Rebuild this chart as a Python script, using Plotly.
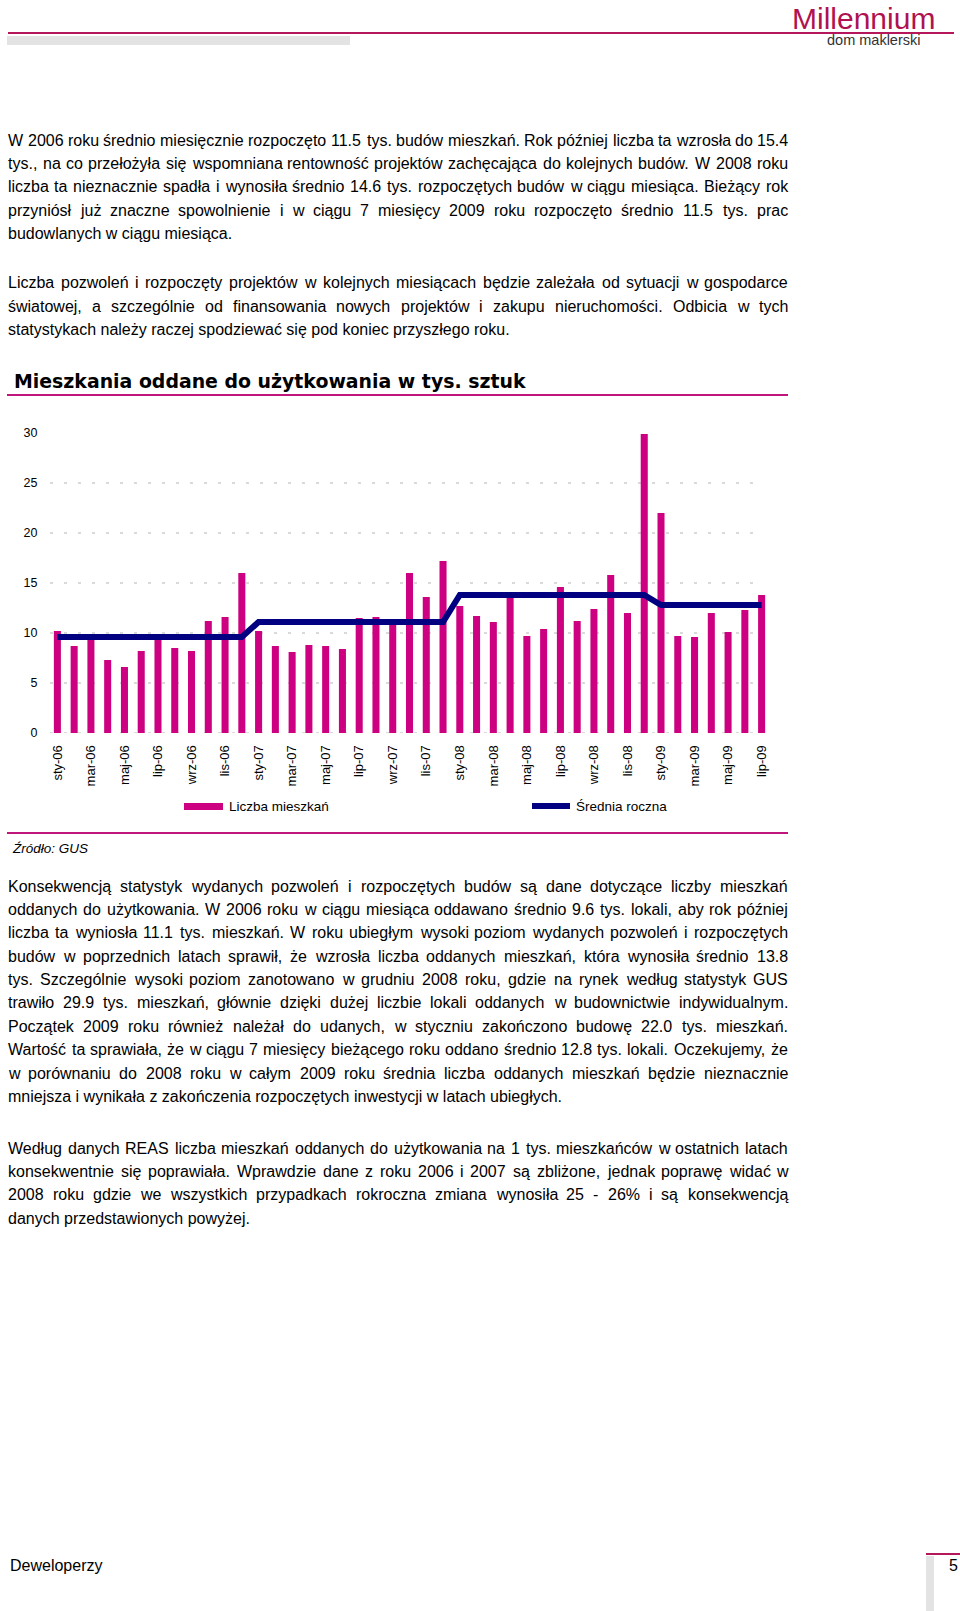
import plotly.graph_objects as go

W, H = 960, 1611

# ---------------- data ----------------
months = [
    "sty-06", "lut-06", "mar-06", "kwi-06", "maj-06", "cze-06", "lip-06", "sie-06", "wrz-06", "paź-06", "lis-06", "gru-06",
    "sty-07", "lut-07", "mar-07", "kwi-07", "maj-07", "cze-07", "lip-07", "sie-07", "wrz-07", "paź-07", "lis-07", "gru-07",
    "sty-08", "lut-08", "mar-08", "kwi-08", "maj-08", "cze-08", "lip-08", "sie-08", "wrz-08", "paź-08", "lis-08", "gru-08",
    "sty-09", "lut-09", "mar-09", "kwi-09", "maj-09", "cze-09", "lip-09",
]
liczba_mieszkan = [
    10.2, 8.7, 9.7, 7.3, 6.6, 8.2, 9.7, 8.5, 8.2, 11.2, 11.6, 16.0,
    10.2, 8.7, 8.1, 8.8, 8.7, 8.4, 11.5, 11.6, 11.0, 16.0, 13.6, 17.2,
    12.7, 11.7, 11.1, 13.7, 9.7, 10.4, 14.6, 11.2, 12.4, 15.8, 12.0, 29.9,
    22.0, 9.7, 9.6, 12.0, 10.1, 12.3, 13.8,
]
srednia_roczna = [
    9.6, 9.6, 9.6, 9.6, 9.6, 9.6, 9.6, 9.6, 9.6, 9.6, 9.6, 9.6,
    11.1, 11.1, 11.1, 11.1, 11.1, 11.1, 11.1, 11.1, 11.1, 11.1, 11.1, 11.1,
    13.8, 13.8, 13.8, 13.8, 13.8, 13.8, 13.8, 13.8, 13.8, 13.8, 13.8, 13.8,
    12.8, 12.8, 12.8, 12.8, 12.8, 12.8, 12.8,
]
tick_labels = ["sty-06", "mar-06", "maj-06", "lip-06", "wrz-06", "lis-06",
               "sty-07", "mar-07", "maj-07", "lip-07", "wrz-07", "lis-07",
               "sty-08", "mar-08", "maj-08", "lip-08", "wrz-08", "lis-08",
               "sty-09", "mar-09", "maj-09", "lip-09"]
y_ticks = [0, 5, 10, 15, 20, 25, 30]
grid_levels = [0, 5, 10, 15, 20, 25]

para1 = [
    "W 2006 roku średnio miesięcznie rozpoczęto 11.5 tys. budów mieszkań. Rok później liczba ta wzrosła do 15.4",
    "tys., na co przełożyła się wspomniana rentowność projektów zachęcająca do kolejnych budów. W 2008 roku",
    "liczba ta nieznacznie spadła i wynosiła średnio 14.6 tys. rozpoczętych budów w ciągu miesiąca. Bieżący rok",
    "przyniósł już znaczne spowolnienie i w ciągu 7 miesięcy 2009 roku rozpoczęto średnio 11.5 tys. prac",
    "budowlanych w ciągu miesiąca.",
]
para2 = [
    "Liczba pozwoleń i rozpoczęty projektów w kolejnych miesiącach będzie zależała od sytuacji w gospodarce",
    "światowej, a szczególnie od finansowania nowych projektów i zakupu nieruchomości. Odbicia w tych",
    "statystykach należy raczej spodziewać się pod koniec przyszłego roku.",
]
para3 = [
    "Konsekwencją statystyk wydanych pozwoleń i rozpoczętych budów są dane dotyczące liczby mieszkań",
    "oddanych do użytkowania. W 2006 roku w ciągu miesiąca oddawano średnio 9.6 tys. lokali, aby rok później",
    "liczba ta wyniosła 11.1 tys. mieszkań. W roku ubiegłym wysoki poziom wydanych pozwoleń i rozpoczętych",
    "budów w poprzednich latach sprawił, że wzrosła liczba oddanych mieszkań, która wynosiła średnio 13.8",
    "tys. Szczególnie wysoki poziom zanotowano w grudniu 2008 roku, gdzie na rynek według statystyk GUS",
    "trawiło 29.9 tys. mieszkań, głównie dzięki dużej liczbie lokali oddanych w budownictwie indywidualnym.",
    "Początek 2009 roku również należał do udanych, w styczniu zakończono budowę 22.0 tys. mieszkań.",
    "Wartość ta sprawiała, że w ciągu 7 miesięcy bieżącego roku oddano średnio 12.8 tys. lokali. Oczekujemy, że",
    "w porównaniu do 2008 roku w całym 2009 roku średnia liczba oddanych mieszkań będzie nieznacznie",
    "mniejsza i wynikała z zakończenia rozpoczętych inwestycji w latach ubiegłych.",
]
para4 = [
    "Według danych REAS liczba mieszkań oddanych do użytkowania na 1 tys. mieszkańców w ostatnich latach",
    "konsekwentnie się poprawiała. Wprawdzie dane z roku 2006 i 2007 są zbliżone, jednak poprawę widać w",
    "2008 roku gdzie we wszystkich przypadkach rokroczna zmiana wynosiła 25 - 26% i są konsekwencją",
    "danych przedstawionych powyżej.",
]

# ---------------- styles ----------------
BAR = "#cc0080"
NAVY = "#000080"
ACCENT = "#c0157a"
HEAD = "#b5175a"
FONT = "Liberation Sans, Arial, sans-serif"
TEXT_SIZE = 16
TEXT_LEFT = 6
TEXT_RIGHT = 786

# Arial / Liberation Sans advance widths (per 1000 em) for text justification
_W = {" ": 278, ",": 278, ".": 278, ":": 278, "-": 333, "%": 889}
_W.update({d: 556 for d in "0123456789"})
_W.update(dict(zip("ABCDEFGHIJKLMNOPQRSTUVWXYZ",
                   [667, 667, 722, 722, 667, 611, 778, 722, 278, 500, 667, 556, 833,
                    722, 778, 667, 778, 722, 667, 611, 722, 667, 944, 667, 667, 611])))
_W.update(dict(zip("abcdefghijklmnopqrstuvwxyz",
                   [556, 556, 500, 556, 556, 278, 556, 556, 222, 222, 500, 222, 833,
                    556, 556, 556, 556, 333, 500, 278, 556, 500, 722, 500, 500, 500])))
_W.update({"ą": 556, "ę": 556, "ś": 500, "ć": 500, "ż": 500, "ź": 500, "ł": 222, "ó": 556,
           "ń": 556, "Ś": 667, "Ź": 611, "Ż": 611, "Ł": 556})


def text_w(s, size):
    return sum(_W.get(c, 556) for c in s) * size / 1000.0


def px(x):
    return x / W


def py(y):
    return 1 - y / H


fig = go.Figure()
fig.add_trace(go.Bar(x=months, y=liczba_mieszkan, name="Liczba mieszkań",
                     marker=dict(color=BAR, line=dict(width=0)), width=0.42))
fig.add_trace(go.Scatter(x=months, y=srednia_roczna, name="Średnia roczna", mode="lines",
                         line=dict(color=NAVY, width=6)))

shapes = []
annotations = []

# gridlines (dashed, none at top)
for g in grid_levels:
    shapes.append(dict(type="line", xref="paper", yref="y", x0=px(50), x1=px(758), y0=g, y1=g,
                       line=dict(color="#b4b4b4", width=1, dash="3px,11px"), layer="below"))

# header
shapes.append(dict(type="line", xref="paper", yref="paper", x0=px(8), x1=px(954), y0=py(33), y1=py(33),
                   line=dict(color=HEAD, width=2)))
shapes.append(dict(type="rect", xref="paper", yref="paper", x0=px(7), x1=px(350), y0=py(36), y1=py(45),
                   fillcolor="#e3e3e3", line=dict(width=0)))
annotations.append(dict(text="Millennium", x=px(937), y=py(18.5), xref="paper", yref="paper",
                        xanchor="right", yanchor="middle", showarrow=False,
                        font=dict(family=FONT, size=30, color="#b0124f")))
annotations.append(dict(text="dom maklerski", x=px(825), y=py(40), xref="paper", yref="paper",
                        xanchor="left", yanchor="middle", showarrow=False,
                        font=dict(family=FONT, size=14.5, color="#333333")))


def add_text(s, x, y):
    annotations.append(dict(text=s, x=px(x), y=py(y), xref="paper", yref="paper",
                            xanchor="left", yanchor="middle", showarrow=False,
                            font=dict(family=FONT, size=TEXT_SIZE, color="#000000")))


# paragraphs (justified, last line left aligned)
def add_para(lines, y0, step=23.4):
    for i, line in enumerate(lines):
        y = y0 + i * step
        words = line.split(" ")
        if i == len(lines) - 1 or len(words) < 2:
            add_text(line, TEXT_LEFT, y)
            continue
        widths = [text_w(wd, TEXT_SIZE) for wd in words]
        gap = (TEXT_RIGHT - TEXT_LEFT - sum(widths)) / (len(words) - 1)
        x = TEXT_LEFT
        for wd, wdw in zip(words, widths):
            add_text(wd, x, y)
            x += wdw + gap


add_para(para1, 140.0)
add_para(para2, 283.0)
add_para(para3, 886.0)
add_para(para4, 1148.0)

# chart title + underline
annotations.append(dict(text="<b>Mieszkania oddane do użytkowania w tys. sztuk</b>", x=px(12), y=py(380.5),
                        xref="paper", yref="paper", xanchor="left", yanchor="middle", showarrow=False,
                        font=dict(family="DejaVu Sans, Liberation Sans, sans-serif", size=18.9, color="#000000")))
shapes.append(dict(type="line", xref="paper", yref="paper", x0=px(7), x1=px(788), y0=py(395), y1=py(395),
                   line=dict(color=ACCENT, width=2)))

# legend (drawn)
shapes.append(dict(type="rect", xref="paper", yref="paper", x0=px(184), x1=px(223), y0=py(810), y1=py(803),
                   fillcolor=BAR, line=dict(width=0)))
shapes.append(dict(type="line", xref="paper", yref="paper", x0=px(532), x1=px(570), y0=py(806), y1=py(806),
                   line=dict(color=NAVY, width=6)))
annotations.append(dict(text="Liczba mieszkań", x=px(227), y=py(806), xref="paper", yref="paper",
                        xanchor="left", yanchor="middle", showarrow=False,
                        font=dict(family=FONT, size=13.5, color="#000000")))
annotations.append(dict(text="Średnia roczna", x=px(574), y=py(806), xref="paper", yref="paper",
                        xanchor="left", yanchor="middle", showarrow=False,
                        font=dict(family=FONT, size=13.5, color="#000000")))

# separator + source
shapes.append(dict(type="line", xref="paper", yref="paper", x0=px(7), x1=px(788), y0=py(833), y1=py(833),
                   line=dict(color=ACCENT, width=2)))
annotations.append(dict(text="<i>Źródło: GUS</i>", x=px(10), y=py(848), xref="paper", yref="paper",
                        xanchor="left", yanchor="middle", showarrow=False,
                        font=dict(family=FONT, size=13.5, color="#000000")))

# footer
annotations.append(dict(text="Deweloperzy", x=px(8), y=py(1565), xref="paper", yref="paper",
                        xanchor="left", yanchor="middle", showarrow=False,
                        font=dict(family=FONT, size=16, color="#000000")))
annotations.append(dict(text="5", x=px(953), y=py(1565), xref="paper", yref="paper",
                        xanchor="center", yanchor="middle", showarrow=False,
                        font=dict(family=FONT, size=16, color="#000000")))
shapes.append(dict(type="line", xref="paper", yref="paper", x0=px(926), x1=px(960), y0=py(1554), y1=py(1554),
                   line=dict(color=HEAD, width=2)))
shapes.append(dict(type="rect", xref="paper", yref="paper", x0=px(926), x1=px(934), y0=py(1611), y1=py(1556),
                   fillcolor="#e3e3e3", line=dict(width=0)))

fig.update_layout(
    width=W, height=H,
    margin=dict(l=0, r=0, t=0, b=0, pad=0),
    paper_bgcolor="white", plot_bgcolor="white",
    showlegend=False,
    font=dict(family=FONT, color="#000000"),
    shapes=shapes, annotations=annotations,
    xaxis=dict(type="category", domain=[px(49), px(770)], range=[-0.5, 42.5], automargin=False,
               tickmode="array", tickvals=tick_labels, ticktext=tick_labels, tickangle=-90,
               tickfont=dict(size=13, family=FONT, color="#000000"),
               ticks="outside", ticklen=6, tickcolor="rgba(0,0,0,0)",
               showgrid=False, showline=False, zeroline=False, fixedrange=True),
    yaxis=dict(domain=[py(733), py(433)], range=[0, 30], tickvals=y_ticks, automargin=False,
               tickfont=dict(size=12.5, family=FONT, color="#000000"),
               ticks="outside", ticklen=8, tickcolor="rgba(0,0,0,0)",
               showgrid=False, showline=False, zeroline=False, fixedrange=True),
)

fig.write_html("out.html",
               config={"displayModeBar": False},
               post_script="document.body.style.margin='0';document.body.style.padding='0';"
                           "document.body.style.overflow='hidden';")
